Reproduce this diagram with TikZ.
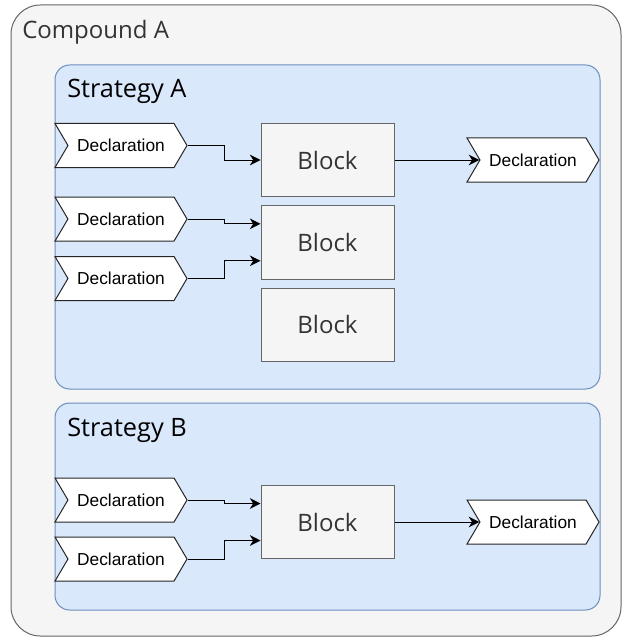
\documentclass[tikz,border=0pt]{standalone}
\usepackage{fontspec}
\setmainfont{Open Sans}
\newfontfamily\declfont{Liberation Sans}
\usepackage{xcolor}
\usetikzlibrary{shapes.symbols, arrows.meta, positioning, calc}

\definecolor{groupfill}{HTML}{F5F5F5}
\definecolor{groupline}{HTML}{666666}
\definecolor{stratfill}{HTML}{DAE8FC}
\definecolor{stratline}{HTML}{6C8EBF}
\definecolor{textgray}{HTML}{333333}

\begin{document}
\begin{tikzpicture}[
    x=0.75pt, y=-0.75pt,
    node distance=6pt,
    compound/.style={draw=groupline, fill=groupfill, rounded corners=22pt, line width=0.75pt},
    strategy/.style={draw=stratline, fill=stratfill, rounded corners=11pt, line width=0.75pt},
    title/.style={anchor=base west, inner sep=0pt, font=\fontsize{18pt}{20pt}\selectfont},
    block/.style={rectangle, draw=groupline, fill=groupfill, minimum width=99.75pt, minimum height=55pt, inner sep=0pt, text=textgray, font=\fontsize{18pt}{20pt}\selectfont, line width=0.75pt},
    decl/.style={signal, signal from=west, signal to=east, signal pointer angle=119, draw=black!85, fill=white, minimum width=99pt, minimum height=33pt, inner sep=0pt, font=\declfont\fontsize{13pt}{15pt}\selectfont, line width=0.75pt},
    arrow/.style={-{Stealth[length=8pt, width=8pt, inset=2.5pt]}, line width=0.75pt},
]
\useasboundingbox (0,0) rectangle (623,638);

% Containers
\draw[compound] (11,5) rectangle (621,636);
\node[title, text=textgray] (cmpA) at (22,39) {Compound A};
\draw[strategy] (55,65) rectangle (600,389);
\node[title, font=\fontsize{19pt}{21pt}\selectfont] (stratA) at (67,98) {Strategy A};
\draw[strategy] (55,403) rectangle (600,610);
\node[title, font=\fontsize{19pt}{21pt}\selectfont] (stratB) at (67,436) {Strategy B};

% Strategy A
\node[decl] (inA1) at (121,145.5) {Declaration};
\node[decl] (inA2) at (121,219) {Declaration};
\node[decl] (inA3) at (121,278.5) {Declaration};
\node[block] (blkA1) at (327.5,160) {Block};
\node[block, below=6pt of blkA1] (blkA2) {Block};
\node[block, below=6pt of blkA2] (blkA3) {Block};
\node[decl] (outA) at (533,160) {Declaration};

\draw[arrow] (inA1.east) -- ++(37,0) |- (blkA1.west);
\draw[arrow] (inA2.east) -- ++(37,0) |- ($(blkA2.west)+(0,-18.5)$);
\draw[arrow] (inA3.east) -- ++(37,0) |- ($(blkA2.west)+(0,18.5)$);
\draw[arrow] (blkA1.east) -- (outA.west);

% Strategy B
\node[decl] (inB1) at (121,500) {Declaration};
\node[decl] (inB2) at (121,559) {Declaration};
\node[block] (blkB) at (327.5,522) {Block};
\node[decl] (outB) at (533,522) {Declaration};

\draw[arrow] (inB1.east) -- ++(37,0) |- ($(blkB.west)+(0,-18.5)$);
\draw[arrow] (inB2.east) -- ++(37,0) |- ($(blkB.west)+(0,18.5)$);
\draw[arrow] (blkB.east) -- (outB.west);

\end{tikzpicture}
\end{document}
